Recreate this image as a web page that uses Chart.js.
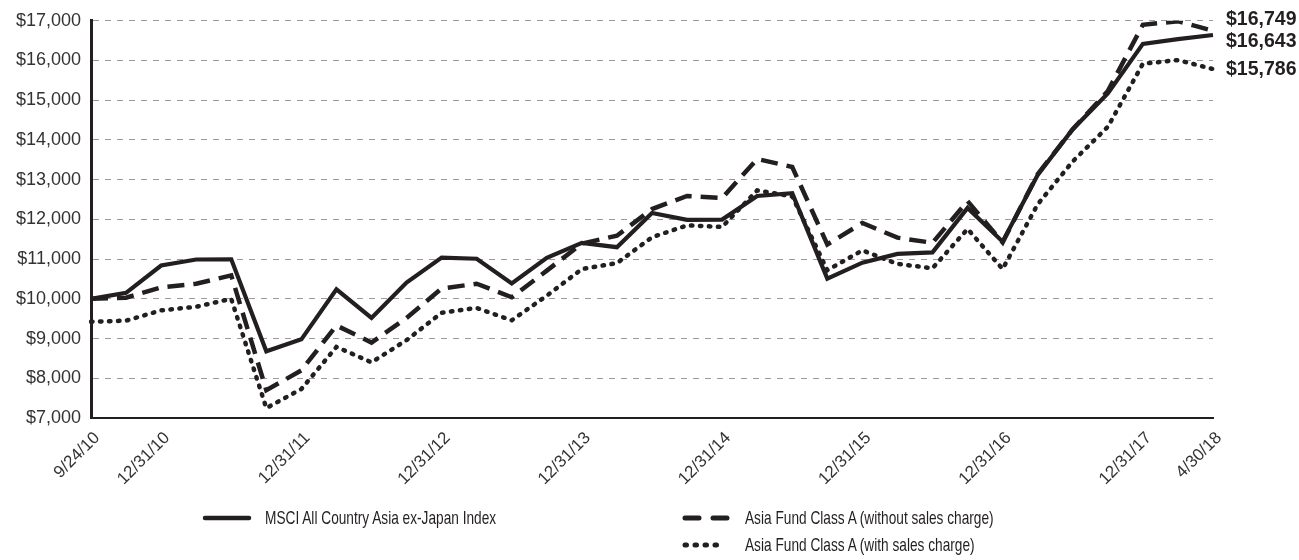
<!DOCTYPE html>
<html><head><meta charset="utf-8">
<script src="https://cdn.jsdelivr.net/npm/chart.js@4.4.1/dist/chart.umd.min.js"></script>
<style>
html,body{margin:0;padding:0;background:#fff;}
#wrap{position:relative;width:1299px;height:560px;overflow:hidden;}
#c{position:absolute;left:0;top:0;}
.leg{position:absolute;font-family:'Liberation Sans',Arial,sans-serif;font-size:19px;color:#231f20;white-space:nowrap;line-height:20px;transform:scaleX(0.72);transform-origin:0 50%;}
svg.sw{position:absolute;overflow:visible;}
</style></head><body>
<div id="wrap"><canvas id="c" width="1299" height="560"></canvas><div id="legend"></div></div>
<script>
// ---- data ----
const categories = ['9/24/10','9/30/10','12/31/10','3/31/11','6/30/11','9/30/11','12/31/11','3/31/12','6/30/12','9/30/12','12/31/12','3/31/13','6/30/13','9/30/13','12/31/13','3/31/14','6/30/14','9/30/14','12/31/14','3/31/15','6/30/15','9/30/15','12/31/15','3/31/16','6/30/16','9/30/16','12/31/16','3/31/17','6/30/17','9/30/17','12/31/17','3/31/18','4/30/18'];
const tickLabels = ['9/24/10','12/31/10','12/31/11','12/31/12','12/31/13','12/31/14','12/31/15','12/31/16','12/31/17','4/30/18'];
const msciIndex = [10000,10150,10840,10990,10995,8680,8980,10240,9520,10410,11040,11010,10390,11035,11410,11300,12160,11990,11995,12590,12660,10510,10910,11130,11170,12290,11440,13120,14270,15170,16420,16540,16643];
const fundWithout = [10000,10030,10290,10380,10590,7700,8200,9330,8900,9520,10260,10380,10040,10710,11390,11590,12260,12590,12540,13520,13320,11370,11910,11540,11410,12460,11420,13140,14270,15230,16900,16990,16749];
const fundWith = [9425,9450,9710,9800,10000,7250,7730,8790,8400,8960,9650,9770,9460,10080,10750,10900,11550,11850,11810,12730,12580,10720,11220,10880,10770,11760,10750,12380,13460,14330,15920,16010,15786];
const seriesNames = ['MSCI All Country Asia ex-Japan Index','Asia Fund Class A (without sales charge)','Asia Fund Class A (with sales charge)'];
const yTicks = {min:7000, max:17000, step:1000};

const INK = '#231f20';
const SANS = "'Liberation Sans',Arial,sans-serif";
const fmt = v => '$' + v.toLocaleString('en-US');

const endLabelPlugin = {
  id:'endLabels',
  afterDatasetsDraw(chart){
    const {ctx, chartArea, scales:{y}} = chart;
    const items = [
      {v: fundWithout[fundWithout.length-1], dy:-11},
      {v: msciIndex[msciIndex.length-1], dy:7},
      {v: fundWith[fundWith.length-1], dy:1}
    ];
    ctx.save();
    ctx.font = "bold 19.5px 'Liberation Sans', Arial, sans-serif";
    ctx.fillStyle = INK;
    ctx.textBaseline = 'middle';
    ctx.textAlign = 'left';
    items.forEach(it => {
      ctx.fillText(fmt(it.v), chartArea.right + 13, y.getPixelForValue(it.v) + it.dy);
    });
    ctx.restore();
  }
};

new Chart(document.getElementById('c'), {
  type:'line',
  data:{
    labels: categories,
    datasets:[
      {label:seriesNames[2], data:fundWith, borderColor:INK, borderWidth:4.5, borderDash:[1.5,7.5], borderCapStyle:'round', pointRadius:0, tension:0, fill:false},
      {label:seriesNames[1], data:fundWithout, borderColor:INK, borderWidth:4.5, borderDash:[17,9], borderCapStyle:'butt', pointRadius:0, tension:0, fill:false},
      {label:seriesNames[0], data:msciIndex, borderColor:INK, borderWidth:4.2, borderJoinStyle:'miter', pointRadius:0, tension:0, fill:false}
    ]
  },
  options:{
    responsive:false, animation:false,
    layout:{padding:{left:0, right:86, top:16, bottom:0}},
    plugins:{legend:{display:false}, tooltip:{enabled:false}},
    scales:{
      x:{
        type:'category', offset:false,
        grid:{display:false, drawTicks:false},
        border:{display:true, color:INK, width:2},
        ticks:{autoSkip:false, minRotation:45, maxRotation:45, padding:10, labelOffset:6, color:'#333',
          font:{family:SANS, size:17},
          callback:function(v,i){ const l = categories[i]; return tickLabels.includes(l) ? l : ''; }},
        afterFit(s){ s.height = 142; }
      },
      y:{
        min:yTicks.min, max:yTicks.max,
        grid:{color:'#9b9b9b', lineWidth:1, drawTicks:false},
        border:{display:true, color:INK, width:3, dash:[6,6]},
        ticks:{stepSize:yTicks.step, padding:10, color:'#333', font:{family:SANS, size:18}, callback:v => fmt(v)},
        afterFit(s){ s.width = 91; }
      }
    }
  },
  plugins:[endLabelPlugin]
});

// ---- legend (HTML) ----
const leg = document.getElementById('legend');
function swatch(x, y, kind){
  const ns='http://www.w3.org/2000/svg';
  const s=document.createElementNS(ns,'svg');
  s.setAttribute('class','sw'); s.setAttribute('width','50'); s.setAttribute('height','10');
  s.style.left=x+'px'; s.style.top=(y-5)+'px';
  const l=document.createElementNS(ns,'line');
  l.setAttribute('y1','5'); l.setAttribute('y2','5'); l.setAttribute('stroke',INK);
  if(kind==='solid'){ l.setAttribute('x1','2'); l.setAttribute('x2','46'); l.setAttribute('stroke-width','4.5'); l.setAttribute('stroke-linecap','round'); }
  if(kind==='dash'){ l.setAttribute('x1','2'); l.setAttribute('x2','44'); l.setAttribute('stroke-width','5'); l.setAttribute('stroke-linecap','round'); l.setAttribute('stroke-dasharray','14 14'); }
  if(kind==='dot'){ l.setAttribute('x1','2'); l.setAttribute('x2','42'); l.setAttribute('stroke-width','5'); l.setAttribute('stroke-linecap','round'); l.setAttribute('stroke-dasharray','1.5 8.5'); }
  s.appendChild(l); leg.appendChild(s);
}
function text(x, y, t){
  const d=document.createElement('div'); d.className='leg'; d.textContent=t;
  d.style.left=x+'px'; d.style.top=(y-10)+'px'; leg.appendChild(d);
}
swatch(203,518,'solid'); text(265,518,seriesNames[0]);
swatch(683,518,'dash'); text(745,518,seriesNames[1]);
swatch(683,545,'dot'); text(745,545,seriesNames[2]);
</script>
</body></html>
